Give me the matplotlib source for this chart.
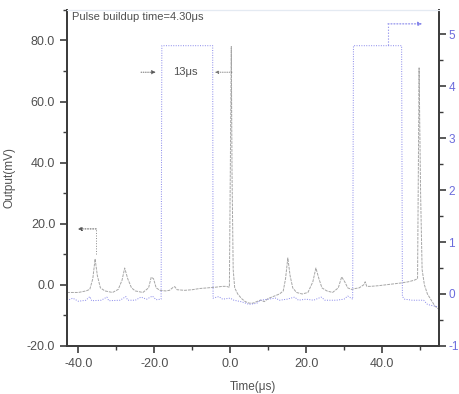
import matplotlib
matplotlib.use("Agg")
import matplotlib.pyplot as plt
from matplotlib.ticker import MultipleLocator, FormatStrFormatter

plt.rcParams['font.family'] = ['Liberation Sans', 'DejaVu Sans']
plt.rcParams['axes.unicode_minus'] = False

# Photodiode output trace (time in us, output in mV)
time_out = [-43, -40, -38, -37, -36.2, -35.6, -35.0, -34.2, -33, -31, -29.5, -28.5,
            -27.8, -27.0, -26, -25, -23, -21.5, -20.8, -20.2, -19.5, -18.5, -17, -16,
            -15, -14.6, -14, -12, -10, -8, -6, -4, -2, -1, -0.2, 0.3, 0.5, 0.8, 1.2,
            2, 3, 4, 5, 6, 7, 8, 9, 10, 11, 12, 13, 14, 14.6, 15.2, 15.8, 16.5, 17.5,
            19, 20.5, 21.8, 22.6, 23.4, 24.2, 25.5, 27, 28.5, 29.4, 30.2, 31, 32, 33,
            34, 35.2, 35.6, 36, 37, 39, 41, 43, 45, 47, 48.5, 49.4, 49.8, 50.2, 50.6,
            51.2, 52, 53, 54, 55]
output_mv = [-2.5, -2.5, -2.0, -1.5, 2, 8.5, 3, -1, -2, -2.5, -1.5, 1.5,
             5.5, 2, -1, -2, -2.5, -1, 2.5, 2, -1, -1.8, -2, -1.8,
             -0.8, -0.6, -1.6, -1.8, -1.6, -1.2, -1, -0.8, -0.5, -0.5, -0.8, 78, 36, 5, -1,
             -3, -4.5, -5.5, -6, -6, -5.5, -5, -5.5, -4.5, -4, -3.5, -3, -2, 2, 8.8, 3, -1, -2.5,
             -3, -2.5, 1, 5.5, 2, -1, -2, -2.5, -1, 2.6, 1, -1, -1.5, -1.2,
             -1, 0, 1, -0.5, -0.5, -0.3, 0, 0.3, 0.6, 1, 1.5, 2, 71, 30, 5,
             0, -3, -5, -7, -8]

# Gate signal (time in us, volts)
time_gate = [-43, -41.5, -40, -38, -37, -36.5, -34, -32.5, -32, -29, -27.5, -27, -25,
             -23.5, -22, -20.5, -19.5, -18.2, -18.0, -4.6, -4.5, -3, -2, 0, 1, 3, 5, 7,
             8, 10, 12, 13, 15, 17, 18, 20, 22, 24, 25, 28, 30, 31, 32.3, 32.5, 45.2,
             45.4, 46, 48, 50, 51, 52, 53, 55]
gate_v = [-0.13, -0.08, -0.14, -0.12, -0.05, -0.13, -0.12, -0.06, -0.13, -0.12, -0.05,
          -0.12, -0.12, -0.06, -0.1, -0.04, -0.11, -0.1, 4.78, 4.78, -0.08, -0.05, -0.1,
          -0.08, -0.12, -0.15, -0.2, -0.18, -0.12, -0.1, -0.08, -0.12, -0.1, -0.06, -0.12,
          -0.1, -0.12, -0.06, -0.12, -0.12, -0.1, -0.04, -0.1, 4.78, 4.78, -0.05, -0.1,
          -0.12, -0.12, -0.12, -0.2, -0.22, -0.25]

x_ticks = [-40, -20, 0, 20, 40]
left_ticks = [-20, 0, 20, 40, 60, 80]
right_ticks = [-1, 0, 1, 2, 3, 4, 5]

dark = '#3c3c3c'
label_gray = '#505050'
trace_gray = '#a6a6a6'
blue = '#8585ea'
blue_lbl = '#6b6bdc'

fig = plt.figure(figsize=(4.59, 3.94), dpi=100)
ax = fig.add_axes([0.146, 0.122, 0.81, 0.853])
ax2 = ax.twinx()

ax.plot(time_out, output_mv, color=trace_gray, lw=0.7, ls=(0, (3, 1)))
ax2.plot(time_gate, gate_v, color=blue, lw=0.7, ls=(0, (1, 1.5)))

ax.set_xlim(-43, 55)
ax.set_ylim(-20, 90)
ax2.set_ylim(-1, 5.47)

ax.set_xticks(x_ticks)
ax.set_yticks(left_ticks)
ax2.set_yticks(right_ticks)
ax.xaxis.set_minor_locator(MultipleLocator(10))
ax.yaxis.set_minor_locator(MultipleLocator(10))
ax2.yaxis.set_minor_locator(MultipleLocator(0.5))
ax.xaxis.set_major_formatter(FormatStrFormatter('%.1f'))
ax.yaxis.set_major_formatter(FormatStrFormatter('%.1f'))

for a in (ax, ax2):
    for side in ('left', 'right', 'bottom'):
        a.spines[side].set_color(dark)
        a.spines[side].set_linewidth(1.3)
    a.spines['top'].set_color('#e4eaf2')
    a.spines['top'].set_linewidth(0.8)

ax.tick_params(axis='both', which='major', direction='out', length=5, width=1.2,
               color=dark, labelsize=9, labelcolor=label_gray)
ax.tick_params(axis='both', which='minor', direction='out', length=3, width=1.0, color=dark)
ax2.tick_params(axis='y', which='major', direction='out', length=5, width=1.2, pad=2,
                color=dark, labelsize=8.5, labelcolor=blue_lbl)
ax2.tick_params(axis='y', which='minor', direction='out', length=3, width=1.0, color=dark)

ax.set_xlabel('Time(μs)', fontsize=8.5, color=label_gray, labelpad=8)
ax.set_ylabel('Output(mV)', fontsize=8.5, color=label_gray, labelpad=8)

# Annotations
ax.text(-41.6, 87.5, 'Pulse buildup time=4.30μs', fontsize=8, color=label_gray,
        va='center', ha='left')
ax.text(-11.8, 69.6, '13μs', fontsize=8, color=label_gray, va='center', ha='center')
ax.annotate('', xy=(-19.6, 69.6), xytext=(-23.5, 69.6),
            arrowprops=dict(arrowstyle='-|>', color='#555555', lw=0.6,
                            mutation_scale=6, shrinkA=0, shrinkB=0, ls=':'))
ax.annotate('', xy=(-4.0, 69.6), xytext=(0.5, 69.6),
            arrowprops=dict(arrowstyle='-|>', color='#777777', lw=0.6,
                            mutation_scale=5, shrinkA=0, shrinkB=0, ls=':'))

# Axis ownership markers
ax.plot([-35.3, -35.3], [10, 18.3], color='#888888', lw=0.7, ls=':')
ax.annotate('', xy=(-40.2, 18.3), xytext=(-35.3, 18.3),
            arrowprops=dict(arrowstyle='-|>', color='#555555', lw=0.7,
                            mutation_scale=6, shrinkA=0, shrinkB=0, ls=':'))
ax2.plot([41.6, 41.6], [4.8, 5.2], color=blue, lw=0.8, ls=':')
ax2.annotate('', xy=(50.6, 5.2), xytext=(41.6, 5.2),
             arrowprops=dict(arrowstyle='-|>', color=blue, lw=0.8,
                             mutation_scale=6, shrinkA=0, shrinkB=0, ls=':'))

fig.savefig('out.png', dpi=100)
